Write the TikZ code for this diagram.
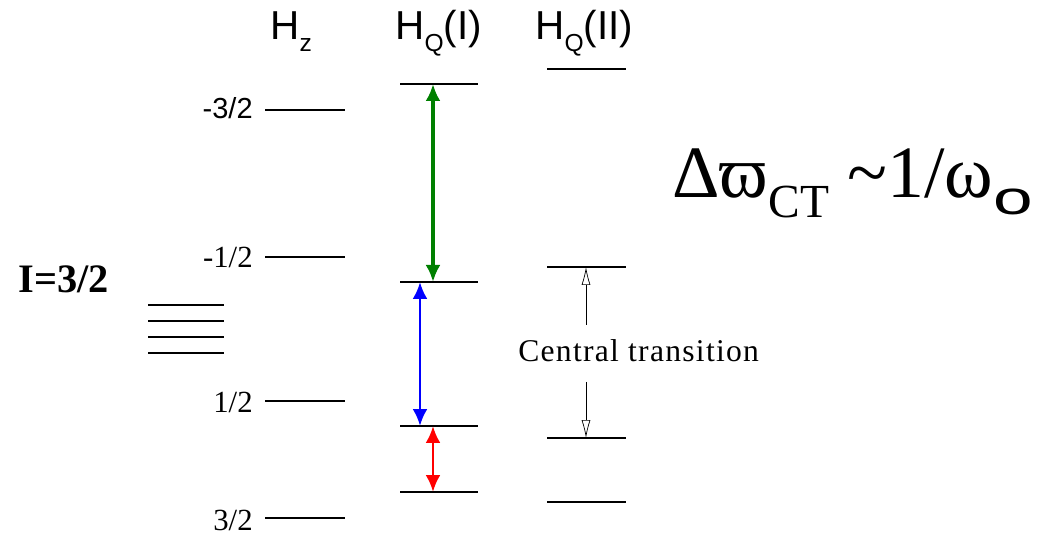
\documentclass[tikz,border=0pt]{standalone}
\usepackage{fontspec}
\setmainfont{Liberation Serif}
\setsansfont{Liberation Sans}
\usetikzlibrary{arrows.meta, positioning, calc}

\begin{document}
\begin{tikzpicture}[
    x=0.02cm, y=-0.02cm,
    level/.style={line width=1.3pt},
    head/.style={anchor=base west, inner sep=0pt, font=\sffamily\fontsize{23}{26}\selectfont},
    mlabel/.style={anchor=base east, inner sep=0pt, font=\fontsize{17.5}{20}\selectfont},
    trans/.style={{Latex[length=3.4mm, width=3mm]}-{Latex[length=3.4mm, width=3mm]}, line width=1.6pt},
    ctarrow/.style={-{Latex[open, length=3.6mm, width=1.8mm]}, line width=0.4pt}
]
    \useasboundingbox (0,0) rectangle (1038,536);

    % Headers
    \node[head] (hz) at (270,40) {H\raisebox{-6.8pt}{\fontsize{14}{14}\selectfont z}};
    \node[head] (hq1) at (395,40) {H\raisebox{-6.8pt}{\fontsize{14}{14}\selectfont Q}(I)};
    \node[head] (hq2) at (535,40) {H\raisebox{-6.8pt}{\fontsize{14}{14}\selectfont Q}(II)};

    % Zeeman levels
    \foreach \n/\y in {a/110, b/257, c/401, d/518} {
        \draw[level] (265,\y) -- (345,\y);
        \coordinate (z\n) at (305,\y);
    }
    \node[mlabel, font=\sffamily\fontsize{16.5}{19}\selectfont] (ma) at (253,119) {-3/2};
    \node[mlabel] (mb) at (253,268) {-1/2};
    \node[mlabel] (mc) at (253,413) {1/2};
    \node[mlabel] (md) at (253,531) {3/2};

    % first order quadrupole
    \foreach \n/\y in {a/84, b/282, c/426, d/492} {
        \draw[level] (400,\y) -- (478,\y);
        \coordinate (q\n) at (433,\y);
    }
    % second order quadrupole
    \foreach \n/\y in {a/69, b/267, c/438, d/502} {
        \draw[level] (547,\y) -- (626,\y);
        \coordinate (r\n) at (586,\y);
    }

    % unsplit spin
    \node[font=\bfseries\fontsize{23}{26}\selectfont, anchor=base west, inner sep=0pt] (spin) at (18,293) {I=3/2};
    \foreach \y in {305, 321, 337, 353}
        \draw[level] (148,\y) -- (224,\y);

    % Transitions
    \draw[trans, line width=2.6pt, green!50!black] (qa) -- (qb);
    \draw[trans, blue] ($(qb)+(-13,0)$) -- ($(qc)+(-13,0)$);
    \draw[trans, red] (qc) -- (qd);

    \node[anchor=base west, inner sep=0pt, font=\fontsize{18}{21}\selectfont\addfontfeatures{LetterSpace=4}] (ct) at (518,362) {Central transition};
    \coordinate (ctu) at (586,325);
    \coordinate (ctd) at (586,382);
    \draw[ctarrow] (ctu) -- (rb);
    \draw[ctarrow] (ctd) -- (rc);

    % Width of central transition
    \node[anchor=base west, inner sep=0pt, font=\fontsize{42}{46}\selectfont] (width) at (672,198)
        {Δϖ\raisebox{-11.3pt}{\fontsize{27}{30}\selectfont CT} \char`~1/ω\raisebox{-9.6pt}{\sffamily\fontsize{27}{30}\selectfont\scalebox{1.5}[1]{o}}};
\end{tikzpicture}
\end{document}
